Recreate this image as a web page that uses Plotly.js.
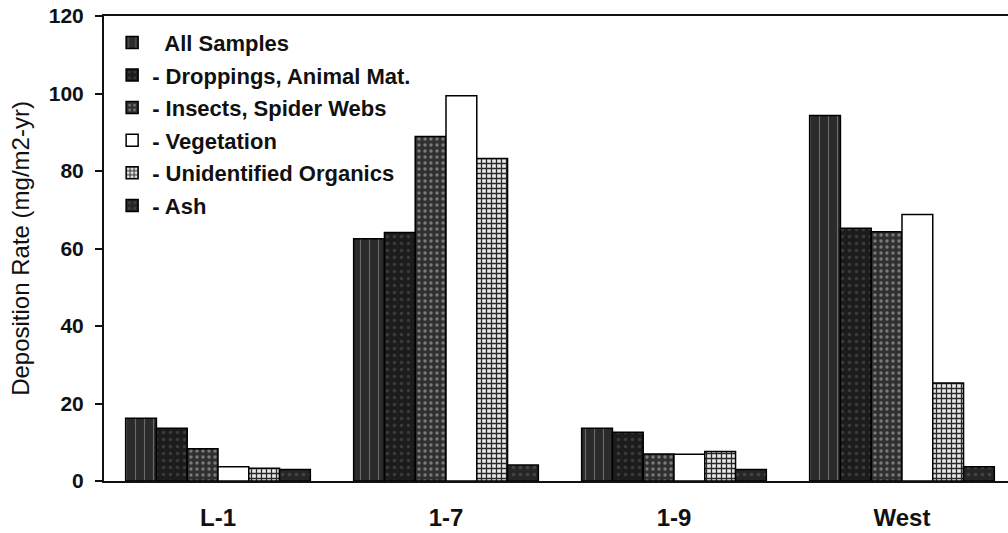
<!DOCTYPE html>
<html>
<head>
<meta charset="utf-8">
<script src="https://cdn.plot.ly/plotly-3.0.1.min.js"></script>
<style>
  html, body { margin: 0; padding: 0; background: #ffffff; overflow: hidden; }
  #chart { width: 1008px; height: 533px; }
</style>
</head>
<body>
<div id="chart"></div>
<script>
// ---- Data ----
const categories   = ['L-1', '1-7', '1-9', 'West'];
const seriesNames  = ['\u00a0\u00a0All Samples', '- Droppings, Animal Mat.', '- Insects, Spider Webs', '- Vegetation', '- Unidentified Organics', '- Ash'];
const allSamples   = [16.2, 62.5, 13.6, 94.3];
const droppings    = [13.6, 64.1, 12.6, 65.2];
const insects      = [8.3, 88.9, 7.0, 64.3];
const vegetation   = [3.7, 99.4, 6.9, 68.8];
const unidentified = [3.3, 83.2, 7.6, 25.3];
const ash          = [3.0, 4.1, 3.0, 3.7];
const yTickVals    = [0, 20, 40, 60, 80, 100, 120];

// ---- Styles ----
const FONT = '"Liberation Sans", Arial, Helvetica, sans-serif';
const styles = [
  {color: '#2b2b2b', pattern: {shape: '|', fgcolor: '#6a6a6a', bgcolor: '#2b2b2b', size: 9, solidity: 0.12}},
  {color: '#1c1c1c', pattern: {shape: '.', fgcolor: '#3a3a3a', bgcolor: '#1c1c1c', size: 7, solidity: 0.2}},
  {color: '#333333', pattern: {shape: '.', fgcolor: '#7a7a7a', bgcolor: '#303030', size: 6, solidity: 0.25}},
  {color: '#ffffff', pattern: {shape: ''}},
  {color: '#d8d8d8', pattern: {shape: '+', fgcolor: '#2a2a2a', bgcolor: '#e8e8e8', size: 5, solidity: 0.45}},
  {color: '#262626', pattern: {shape: '.', fgcolor: '#444444', bgcolor: '#262626', size: 7, solidity: 0.2}}
];
const values = [allSamples, droppings, insects, vegetation, unidentified, ash];

const traces = values.map((v, i) => ({
  type: 'bar',
  name: seriesNames[i],
  x: categories,
  y: v,
  legendgroup: 'g' + i,
  marker: {
    color: styles[i].color,
    pattern: styles[i].pattern,
    line: {color: '#000000', width: 1.5}
  },
  hoverinfo: 'x+y+name'
}));

const layout = {
  width: 1008,
  height: 533,
  paper_bgcolor: '#ffffff',
  plot_bgcolor: '#ffffff',
  margin: {l: 104, r: 0, t: 16, b: 52, pad: 0},
  barmode: 'group',
  bargap: 0.19,
  bargroupgap: 0,
  showlegend: true,
  legend: {
    x: 0.009, xanchor: 'left',
    y: 0.988, yanchor: 'top',
    bgcolor: 'rgba(0,0,0,0)',
    borderwidth: 0,
    tracegroupgap: 1,
    font: {family: FONT, size: 22, color: '#111111', weight: 'bold'},
    itemclick: false, itemdoubleclick: false
  },
  xaxis: {
    type: 'category',
    range: [-0.5, 3.465],
    showline: true, linecolor: '#111111', linewidth: 2,
    mirror: true,
    ticks: '',
    ticklabelstandoff: 14,
    tickfont: {family: FONT, size: 24, color: '#111111', weight: 'bold'},
    showgrid: false, zeroline: false, fixedrange: true
  },
  yaxis: {
    range: [0, 120],
    tickvals: yTickVals,
    ticktext: yTickVals.map(String),
    showline: true, linecolor: '#111111', linewidth: 2,
    mirror: false,
    ticks: 'outside', ticklen: 7, tickwidth: 2, tickcolor: '#111111',
    ticklabelstandoff: 7,
    tickfont: {family: FONT, size: 21, color: '#111111', weight: 'bold'},
    showgrid: false, zeroline: false, fixedrange: true,
    title: {
      text: 'Deposition Rate (mg/m2-yr)',
      font: {family: FONT, size: 24, color: '#111111'},
      standoff: 12
    }
  }
};

Plotly.newPlot('chart', traces, layout, {displayModeBar: false, staticPlot: true});
</script>
</body>
</html>
